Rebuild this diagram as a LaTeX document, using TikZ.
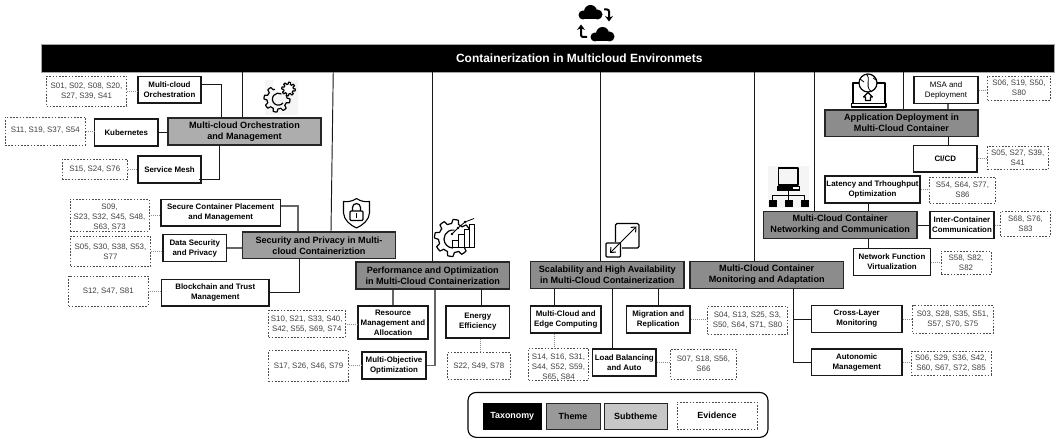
\documentclass[tikz,border=0pt]{standalone}
\usepackage{fontspec}
\setmainfont{Liberation Sans}
\usetikzlibrary{arrows.meta}
\tikzset{
 boxbase/.style={inner sep=0pt,align=center,text=black},
 rootbox/.style={boxbase,fill=black,draw=gray!70,line width=.6pt,text=white,font=\bfseries\fontsize{11.95}{13}\selectfont},
 themebox/.style={boxbase,fill=#1,draw=black!85,line width=1.1pt,font=\bfseries\fontsize{9.1}{11}\selectfont},
 themebox/.default={black!45},
 subbox/.style={boxbase,fill=white,draw=black!90,line width=1.05pt,font=\bfseries\fontsize{7.9}{10}\selectfont},
 evbox/.style={boxbase,fill=white,draw=black!70,line width=.65pt,dash pattern=on 1.6pt off 1.6pt,text=black!75,font=\fontsize{7.9}{10}\selectfont},
 legendbox/.style={font=\bfseries\fontsize{8.9}{10}\selectfont},
 link/.style={draw=black!90,line width=.95pt},
 glink/.style={draw=black!60,line width=1.1pt},
 evlink/.style={draw=black!45,line width=.6pt,dash pattern=on 1pt off 1pt},
 icon/.style={draw=black,line width=1.2pt,line join=round,fill=none},
 legendframe/.style={draw=black,line width=1.1pt,rounded corners=8pt},
}
\newcommand{\boxat}[7][]{\node[#1,minimum width={(#5-#3)*1pt},minimum height={(#6-#4)*1pt}] (#2) at ({(#3+#5)/2},{(#4+#6)/2}) {#7};}
\newcommand{\gearplot}[6][icon]{\draw[#1] plot[samples=#6*8+1,domain=0:360] ({#2+(#4+(#5-#4)*(sin(#6*\x+20)>0))*cos(\x)},{#3+(#4+(#5-#4)*(sin(#6*\x+20)>0))*sin(\x)}) -- cycle;}
\newcommand{\cloudshape}[2]{%
 \fill[black] (#1+5,#2+10) circle (4.5);
 \fill[black] (#1+12.5,#2+6.5) circle (6.5);
 \fill[black] (#1+19.5,#2+9.5) circle (5);
 \fill[black] (#1+5,#2+9) rectangle (#1+19.5,#2+14.5);}
\newcommand{\tallstrut}{\rule{0pt}{11pt}}
\begin{document}
\begin{tikzpicture}[x=1pt,y=-1pt]
\useasboundingbox (0,0) rectangle (1055,438);
% root
\boxat[rootbox]{root}{41}{44.5}{1054.5}{72}{\hspace*{63pt}Containerization in Multicloud Environmets}
% themes
\boxat[themebox={black!32}]{tA}{168}{118}{321}{145}{Multi-cloud Orchestration\\and Management}
\boxat[themebox={black!38}]{tB}{242.5}{232}{395.5}{258.5}{Security and Privacy in Multi-\\cloud Containeriztion}
\boxat[themebox]{tC}{356}{262}{509.5}{289}{Performance and Optimization\\in Multi-Cloud Containerization}
\boxat[themebox]{tD}{530.5}{261.5}{684}{288.5}{Scalability and High Availability\\in Multi-Cloud Containerization}
\boxat[themebox]{tE}{690}{261.5}{843.5}{288.5}{Multi-Cloud Container\\Monitoring and Adaptation}
\boxat[themebox]{tF}{763.5}{211.5}{917}{238.5}{Multi-Cloud Container\\Networking and Communication}
\boxat[themebox]{tG}{825}{110}{978}{136.5}{Application Deployment in\\Multi-Cloud Container}
% subthemes
\boxat[subbox]{a1}{138}{76.5}{201}{103}{Multi-cloud\\Orchestration}
\boxat[subbox]{a2}{94.5}{119}{158}{146}{Kubernetes}
\boxat[subbox]{a3}{138}{156}{201}{183}{Service Mesh}
\boxat[subbox]{b1}{161}{199.5}{280.5}{226}{Secure Container Placement\\and Management}
\boxat[subbox]{b2}{163}{234.5}{226.5}{261.5}{Data Security\\and Privacy}
\boxat[subbox]{b3}{161.5}{279.5}{269}{306}{Blockchain and Trust\\Management}
\boxat[subbox]{c1}{358}{306}{428}{339}{Resource\\Management and\\Allocation}
\boxat[subbox]{c2}{362}{352}{426}{379}{Multi-Objective\\Optimization}
\boxat[subbox]{c3}{446}{306}{509.5}{338}{Energy\\Efficiency}
\boxat[subbox]{d1}{530.5}{306}{601}{333}{Multi-Cloud and\\Edge Computing}
\boxat[subbox]{d2}{592.5}{349}{656}{376}{Load Balancing\\and Auto}
\boxat[subbox]{d3}{626.5}{306}{690}{333}{Migration and\\Replication}
\boxat[subbox]{e1}{811.5}{305.5}{902}{332.5}{Cross-Layer\\Monitoring}
\boxat[subbox]{e2}{811.5}{349}{902}{375.5}{Autonomic\\Management}
\boxat[subbox]{f1}{825}{176}{920}{203}{Latency and Trhoughput\\Optimization}
\boxat[subbox]{f2}{930}{211.5}{994}{238.5}{Inter-Container\\Communication}
\boxat[subbox]{f3}{853.5}{248.5}{930.5}{275.5}{Network Function\\Virtualization}
\boxat[subbox,font=\fontsize{7.9}{10}\selectfont]{g1}{914}{76.5}{978}{103.5}{MSA and\\Deployment}
\boxat[subbox]{g2}{913.5}{145.5}{977}{172}{CI/CD}
% evidence
\boxat[evbox]{ea1}{46.5}{76}{126.5}{106}{S01, S02, S08, S20,\\S27, S39, S41}
\boxat[evbox]{ea2}{5}{117}{85.5}{145}{\raisebox{3pt}{S11, S19, S37, S54}}
\boxat[evbox]{ea3}{62}{159.5}{127.5}{179.5}{S15, S24, S76}
\boxat[evbox]{eb1}{70}{200}{149}{230}{\tallstrut S09,\\S23, S32, S45, S48,\\S63, S73}
\boxat[evbox]{eb2}{70.5}{236.5}{150.5}{266.5}{S05, S30, S38, S53,\\S77}
\boxat[evbox]{eb3}{68.5}{276}{148}{306}{S12, S47, S81}
\boxat[evbox]{ec1}{268.5}{310.5}{345}{337.5}{S10, S21, S33, S40,\\S42, S55, S69, S74}
\boxat[evbox]{ec2}{268.5}{350.5}{348.5}{381}{S17, S26, S46, S79}
\boxat[evbox]{ec3}{447.5}{352.5}{510}{379.5}{S22, S49, S78}
\boxat[evbox]{ed1}{528.5}{349}{588.5}{379.5}{\tallstrut S14, S16, S31,\\S44, S52, S59,\\S65, S84}
\boxat[evbox]{ed2}{670.5}{349}{736.5}{379}{S07, S18, S56,\\S66}
\boxat[evbox]{ed3}{707.5}{306.5}{787.5}{334}{S04, S13, S25, S3,\\S50, S64, S71, S80}
\boxat[evbox]{ee1}{912.5}{305.5}{993}{333.5}{S03, S28, S35, S51,\\S57, S70, S75}
\boxat[evbox]{ee2}{911}{351}{991}{375}{S06, S29, S36, S42,\\S60, S67, S72, S85}
\boxat[evbox]{ef1}{929.5}{177}{995.5}{203}{S54, S64, S77,\\S86}
\boxat[evbox]{ef2}{1000.5}{211.5}{1050.5}{236}{S68, S76,\\S83}
\boxat[evbox]{ef3}{941}{251}{991}{274}{S58, S82,\\S82}
\boxat[evbox]{eg1}{987.5}{76}{1050.5}{100}{S06, S19, S50,\\S80}
\boxat[evbox]{eg2}{987.5}{146.5}{1048}{169.5}{S05, S27, S39,\\S41}
% root to themes
\draw[link] (tA.north -| 242,0) -- (root.south -| 242,0);
\draw[link] ([xshift=12pt]tB.north) -- ([xshift=-214.5pt]root.south);
\draw[link] (tC.north -| 432,0) -- (root.south -| 432,0);
\draw[link] (tD.north -| 600.5,0) -- (root.south -| 600.5,0);
\draw[link] (tE.north -| 754.5,0) -- (root.south -| 754.5,0);
\draw[link] (tF.north -| 814.5,0) -- (root.south -| 814.5,0);
\draw[link] (tG.north -| 903.5,0) -- (root.south -| 903.5,0);
% theme to subtheme
\draw[link] ([yshift=5.75pt]a1.east) -| ([xshift=-23.5pt]tA.north);
\draw[link] (a2.east) -- (a2.east -| tA.west);
\draw[link] ([yshift=-10pt,xshift=-3pt]a3.east) -| ([xshift=-25.5pt]tA.south);
\draw[glink] ([yshift=6.75pt]b1.east) -| ([xshift=-21pt]tB.north);
\draw[glink,line width=1.6pt] (b2.east) -- (b2.east -| tB.west);
\draw[link] (b3.east) -| ([xshift=-20pt]tB.south);
\draw[glink] (c1.north) -- (c1.north |- tC.south);
\draw[glink] (c2.east) -| ([xshift=2.25pt]tC.south);
\draw[link] ([xshift=3.25pt]c3.north) -- ([xshift=3.25pt]c3.north |- tC.south);
\draw[link] ([xshift=-11.25pt]d1.north) -- ([xshift=-11.25pt]d1.north |- tD.south);
\draw[link] ([xshift=-12.25pt]d2.north) -- ([xshift=-12.25pt]d2.north |- tD.south);
\draw[link] (d3.north) -- (d3.north |- tD.south);
\draw[link] (e2.west) -| ([xshift=26.5pt]tE.south);
\draw[link] (e1.west) -- (e1.west -| 793.25,0);
\draw[link] ([xshift=-4.5pt]f1.south) -- ([xshift=-4.5pt]f1.south |- tF.north);
\draw[link] (f2.west) -- (f2.west -| tF.east);
\draw[link] ([xshift=-24pt]f3.north) -- ([xshift=-24pt]f3.north |- tF.south);
\draw[glink] ([xshift=2pt]g1.south) -- ([xshift=2pt]g1.south |- tG.north);
\draw[link] ([xshift=2.75pt]g2.north) -- ([xshift=2.75pt]g2.north |- tG.south);
% evidence links
\draw[evlink] (ea1.east) -- (ea1.east -| a1.west);
\draw[evlink] (ea2.east) -- (ea2.east -| a2.west);
\draw[evlink] (ea3.east) -- (ea3.east -| a3.west);
\draw[evlink] (eb1.east) -- (eb1.east -| b1.west);
\draw[evlink] (eb2.east) -- (eb2.east -| b2.west);
\draw[evlink] (eb3.east) -- (eb3.east -| b3.west);
\draw[evlink] (ec1.east) -- (ec1.east -| c1.west);
\draw[evlink] (ec2.east) -- (ec2.east -| c2.west);
\draw[evlink] ([xshift=3pt]c3.south) -- ([xshift=3pt]c3.south |- ec3.north);
\draw[evlink] ([xshift=-11.25pt]d1.south) -- ([xshift=-11.25pt]d1.south |- ed1.north);
\draw[evlink] (d2.east) -- (d2.east -| ed2.west);
\draw[evlink] (d3.east) -- (d3.east -| ed3.west);
\draw[evlink] (e1.east) -- (e1.east -| ee1.west);
\draw[evlink] (e2.east) -- (e2.east -| ee2.west);
\draw[evlink] (f1.east) -- (f1.east -| ef1.west);
\draw[evlink] (f2.east) -- (f2.east -| ef2.west);
\draw[evlink] (f3.east) -- (f3.east -| ef3.west);
\draw[evlink] (g1.east) -- (g1.east -| eg1.west);
\draw[evlink] (g2.east) -- (g2.east -| eg2.west);
% legend
\draw[legendframe] (468,392.5) rectangle (768,437.3);
\boxat[boxbase,legendbox,fill=black,text=white]{l1}{482.5}{402.5}{542}{429.5}{Taxonomy}
\boxat[themebox={black!40},line width=.9pt,legendbox]{l2}{546}{403}{600}{429}{Theme}
\boxat[themebox={black!22},line width=.9pt,legendbox]{l3}{604}{403}{667.5}{429}{Subtheme}
\boxat[evbox,text=black,legendbox]{l4}{677}{402}{757}{429}{Evidence}
% cloud icon
\cloudshape{578}{5}
\cloudshape{590}{27}
\draw[-{Stealth[length=5.5pt,width=8pt]},line width=2pt,rounded corners=2pt] (604,9.5) -- (609,9.5) -- (609,21.5);
\draw[-{Stealth[length=5.5pt,width=8pt]},line width=2pt,rounded corners=2pt] (587,37) -- (581,37) -- (581,24.5);
% gear icon (orchestration)
\fill[black!4] (265,80) rectangle (298,115);
\gearplot{277}{99}{10}{13}{8}
\fill[white] (281,84) circle (8);
\gearplot[icon,fill=white]{288.5}{89}{4.8}{6.8}{8}
\draw[icon] (283,103) arc (40:300:6);
% shield icon
\draw[icon,line width=1.1pt] (356.5,198.5) .. controls (352,201.5) and (348,202) .. (343.5,201.5) -- (343.5,213) .. controls (344,220) and (350,225) .. (356.5,228) .. controls (363,225) and (369,220) .. (369.5,213) -- (369.5,201.5) .. controls (365,202) and (361,201.5) .. (356.5,198.5) -- cycle;
\draw[icon,rounded corners=1pt] (350,211) rectangle (363,220.5);
\draw[icon] (352.5,211) -- (352.5,207.5) arc (180:360:4) -- (360.5,211);
\draw[icon] (356.5,213.5) -- (356.5,218);
% performance icon
\gearplot{453}{238}{14.5}{18.5}{8}
\draw[icon] (453,248) arc (90:280:9);
\draw[icon,fill=white,line width=.9pt] (452,240) rectangle (458,247);
\draw[icon,fill=white,line width=.9pt] (458,234) rectangle (464,247);
\draw[icon,fill=white,line width=.9pt] (464,229) rectangle (469.5,247);
\draw[icon,fill=white,line width=.9pt] (469.5,224) rectangle (474.5,247);
\draw[icon,line width=.8pt] (452,234) -- (458,228) -- (465,222) -- (474,218.5);
\fill (458,228) circle (1.3);
\fill (465,222) circle (1.3);
\fill (452,234) circle (1.3);
% expand icon
\draw[icon,line width=1.3pt,rounded corners=1.5pt] (615.5,242) -- (615.5,223.5) -- (639,223.5) -- (639,248) -- (622,248);
\draw[icon,line width=1.3pt,rounded corners=1pt] (606,243) rectangle (620.5,257);
\draw[line width=1pt,{Straight Barb[length=4pt,width=7pt]}-{Straight Barb[length=4pt,width=7pt]}] (610,253) -- (636.5,226.5);
% network icon
\fill[black!4] (768,166) rectangle (809,208);
\draw[icon] (778.5,168) rectangle (798,185);
\fill (777,186) rectangle (800,191.5);
\fill[white] (793,187.5) rectangle (799,189.5);
\draw[icon] (788.5,191) -- (788.5,200) (772.5,200) -- (772.5,195.5) -- (804.5,195.5) -- (804.5,200);
\fill (769,200) rectangle (776.5,207.5);
\fill (785,200) rectangle (792.5,207.5);
\fill (801,200) rectangle (808.5,207.5);
% laptop icon
\draw[icon] (853,103) -- (853,83) -- (885,83) -- (885,103);
\draw[icon] (851.5,103.5) rectangle (886,107);
\draw[icon,fill=white] (868,83) circle (9);
\draw[icon,line width=.8pt] (866,74) .. controls (872,79) and (864,85) .. (871,91.5);
\draw[icon,line width=.8pt] (860,79) -- (864,82) (873,78) -- (876,80);
\draw[icon] (868,92.5) -- (863.5,97) -- (865.5,97) -- (865.5,100.5) -- (870.5,100.5) -- (870.5,97) -- (872.5,97) -- cycle;
\end{tikzpicture}
\end{document}
